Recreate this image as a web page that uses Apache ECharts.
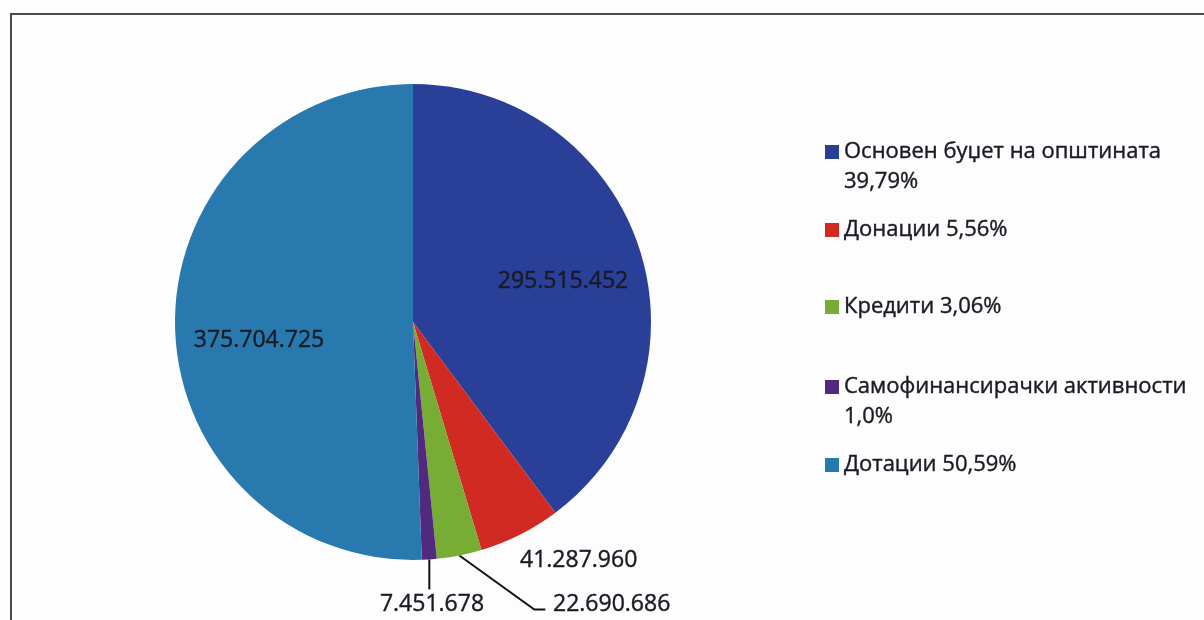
<!DOCTYPE html>
<html>
<head>
<meta charset="utf-8">
<script src="https://cdn.jsdelivr.net/npm/echarts@6/dist/echarts.min.js"></script>
<style>
html,body{margin:0;padding:0;background:#fdfdfd;}
#main{width:1204px;height:620px;}
</style>
</head>
<body>
<div id="main"></div>
<script>
const categories = ['Основен буџет на општината', 'Донации', 'Кредити', 'Самофинансирачки активности', 'Дотации'];
const values = [295515452, 41287960, 22690686, 7451678, 375704725];
const percentLabels = ['39,79%', '5,56%', '3,06%', '1,0%', '50,59%'];
const colors = ['#2a3f98', '#d02a22', '#78ad35', '#51297f', '#2879ad'];

const CX = 413, CY = 322, R = 238;
const FONT = '"Open Sans", Lato, sans-serif';
const TEXT = '#1a1a24';

function fmt(v) {
  return String(v).replace(/\B(?=(\d{3})+(?!\d))/g, '.');
}
const total = values.reduce((a, b) => a + b, 0);
function edgePoint(i) {
  let before = 0;
  for (let k = 0; k < i; k++) before += values[k];
  const mid = (before + values[i] / 2) / total * Math.PI * 2;
  return [CX + R * Math.sin(mid), CY - R * Math.cos(mid)];
}

const chart = echarts.init(document.getElementById('main'));

// legend: one per item for exact placement; two-line items get a leading blank line
// so that the first text line is centred on the colour square
const legendCenters = [152, 230, 307, 387, 465];
const legends = categories.map((name, i) => {
  const twoLine = (i === 0 || i === 3);
  return {
    data: [name],
    orient: 'vertical',
    left: 825,
    top: legendCenters[i] - (twoLine ? 45 : 15),
    padding: 0,
    itemWidth: 14,
    itemHeight: 14,
    itemGap: 6,
    icon: 'rect',
    selectedMode: false,
    formatter: function (n) {
      return twoLine ? ' \n' + n + '\n' + percentLabels[i] : n + ' ' + percentLabels[i];
    },
    textStyle: {
      fontFamily: FONT,
      fontSize: 22,
      color: TEXT,
      lineHeight: 30,
      textBorderColor: TEXT,
      textBorderWidth: 0.4
    }
  };
});

const labelSpec = [
  { x: 563, y: 281, align: 'center' },
  { x: 520, y: 560, align: 'left' },
  { x: 553, y: 604, align: 'left' },
  { x: 432, y: 604, align: 'center' },
  { x: 259, y: 340, align: 'center' }
];

chart.setOption({
  backgroundColor: '#fdfdfd',
  animation: false,
  color: colors,
  legend: legends,
  graphic: [{
    type: 'rect',
    shape: { x: 11, y: 14, width: 1400, height: 800 },
    style: { fill: 'none', stroke: '#4a4a4a', lineWidth: 2 },
    z: 100
  }],
  series: [{
    type: 'pie',
    center: [CX, CY],
    radius: [0, R],
    startAngle: 90,
    clockwise: true,
    avoidLabelOverlap: false,
    emphasis: { disabled: true },
    itemStyle: { borderWidth: 0 },
    label: {
      show: true,
      fontFamily: FONT,
      fontSize: 23,
      color: TEXT,
      textBorderColor: TEXT,
      textBorderWidth: 0.4,
      formatter: p => fmt(p.value)
    },
    labelLine: { show: false, lineStyle: { color: '#111', width: 2 } },
    labelLayout: function (params) {
      const i = params.dataIndex;
      const s = labelSpec[i];
      const out = { x: s.x, y: s.y, align: s.align, verticalAlign: 'middle' };
      if (i === 3) {
        const p = edgePoint(3);
        out.labelLinePoints = [[p[0], p[1]], [p[0], p[1] + 30], [p[0], p[1] + 30]];
      } else if (i === 2) {
        const p = edgePoint(2);
        out.labelLinePoints = [[p[0], p[1]], [p[0] + 75, p[1] + 54], [p[0] + 86, p[1] + 54]];
      }
      return out;
    },
    data: categories.map((name, i) => ({
      name: name,
      value: values[i],
      labelLine: { show: i === 2 || i === 3 }
    }))
  }]
});
</script>
</body>
</html>
